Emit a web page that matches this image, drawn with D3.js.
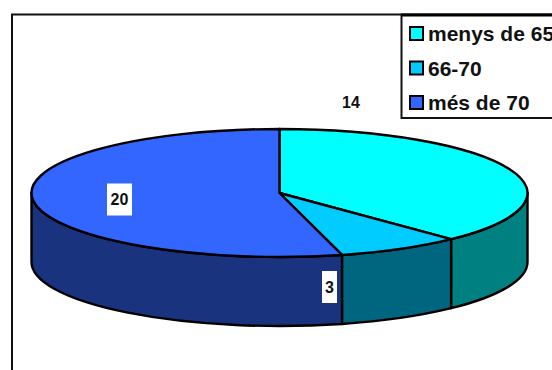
<!DOCTYPE html>
<html>
<head>
<meta charset="utf-8">
<script src="https://cdn.jsdelivr.net/npm/d3@7"></script>
<style>
  html, body { margin: 0; padding: 0; background: #fff; }
  svg { display: block; }
  text { font-family: "Liberation Sans", Arial, sans-serif; font-weight: bold; fill: #111; }
</style>
</head>
<body>
<div id="chart"></div>
<script>
// Age groups and how many people fall in each
const categories = ['menys de 65', '66-70', 'més de 70'];
const values = [14, 3, 20];
const topColors = ['#00ffff', '#00ccff', '#3366ff'];
const sideColors = ['#008080', '#006680', '#1a337f'];

const width = 552, height = 370;
const cx = 279.5, cy = 193, rx = 248, ry = 64, depth = 69;

const svg = d3.select('#chart').append('svg')
  .attr('width', width)
  .attr('height', height);

// Outer frame, runs off the right and bottom edges
svg.append('path')
  .attr('d', `M${width + 2},14.5H12V${height + 2}`)
  .attr('fill', 'none')
  .attr('stroke', '#111')
  .attr('stroke-width', 2);

const arcs = d3.pie().value(d => d).sort(null)(values);

// Angle 0 is at 12 o'clock, going clockwise, same as d3.pie
const px = a => cx + rx * Math.sin(a);
const py = a => cy - ry * Math.cos(a);

const rimArc = (a, yOff, sweep) =>
  `A${rx},${ry} 0 ${Math.abs(a.to - a.from) > Math.PI ? 1 : 0} ${sweep} ${px(a.to)},${py(a.to) + yOff}`;

const stroke = sel => sel
  .attr('stroke', '#000')
  .attr('stroke-width', 2.4)
  .attr('stroke-linejoin', 'round');

// Side walls: only the part of each slice on the front half of the rim
const front = [Math.PI / 2, Math.PI * 3 / 2];
arcs.forEach((d, i) => {
  const from = Math.max(d.startAngle, front[0]);
  const to = Math.min(d.endAngle, front[1]);
  if (to <= from) return;
  const path = `M${px(from)},${py(from)}` +
    rimArc({ from, to }, 0, 1) +
    `V${py(to) + depth}` +
    rimArc({ from: to, to: from }, depth, 0) + 'Z';
  svg.append('path')
    .attr('d', path)
    .attr('fill', sideColors[i])
    .call(stroke);
});

// Top face
svg.selectAll('path.slice')
  .data(arcs)
  .join('path')
  .attr('class', 'slice')
  .attr('d', d => `M${cx},${cy}L${px(d.startAngle)},${py(d.startAngle)}` +
    rimArc({ from: d.startAngle, to: d.endAngle }, 0, 1) + 'Z')
  .attr('fill', (d, i) => topColors[i])
  .call(stroke);

// Value labels on white boxes
const labelPos = [[351, 102], [329.5, 287], [119.5, 199.5]];
const labelBox = [[30, 32], [15, 32], [25, 32]];
values.forEach((v, i) => {
  const [lx, ly] = labelPos[i];
  const [bw, bh] = labelBox[i];
  svg.append('rect')
    .attr('x', lx - bw / 2)
    .attr('y', ly - bh / 2)
    .attr('width', bw)
    .attr('height', bh)
    .attr('fill', '#fff');
  svg.append('text')
    .attr('x', lx)
    .attr('y', ly)
    .attr('dy', '0.36em')
    .attr('text-anchor', 'middle')
    .attr('font-size', 16)
    .text(v);
});

// Legend box, clipped by the right edge
svg.append('rect')
  .attr('x', 401.5)
  .attr('y', 15)
  .attr('width', width)
  .attr('height', 103)
  .attr('fill', '#fff')
  .attr('stroke', '#111')
  .attr('stroke-width', 2);
svg.append('line')
  .attr('x1', 401).attr('x2', width)
  .attr('y1', 15).attr('y2', 15)
  .attr('stroke', '#000')
  .attr('stroke-width', 3);

const rowY = d3.scalePoint().domain(categories).range([33.5, 102.5]);

const rows = svg.selectAll('g.row')
  .data(categories)
  .join('g')
  .attr('class', 'row')
  .attr('transform', d => `translate(0,${rowY(d)})`);

rows.append('rect')
  .attr('x', 410)
  .attr('y', -6.5)
  .attr('width', 13)
  .attr('height', 13)
  .attr('fill', (d, i) => topColors[i])
  .attr('stroke', '#000')
  .attr('stroke-width', 2);

rows.append('text')
  .attr('x', 428)
  .attr('dy', '0.36em')
  .attr('font-size', 21)
  .text(d => d);
</script>
</body>
</html>
